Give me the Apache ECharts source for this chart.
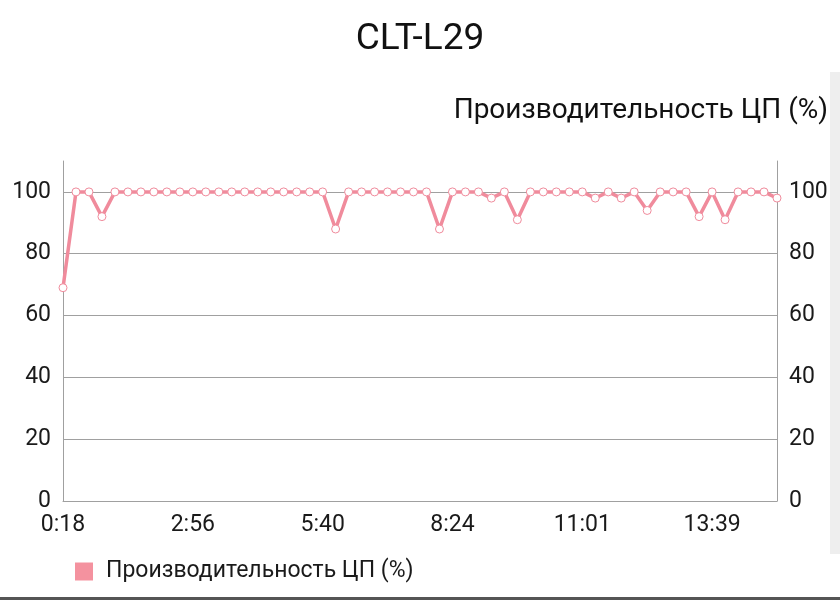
<!DOCTYPE html>
<html>
<head>
<meta charset="utf-8">
<script src="https://cdn.jsdelivr.net/npm/echarts@6/dist/echarts.min.js"></script>
<style>
html,body{margin:0;padding:0;background:#fff;}
#chart{width:840px;height:604px;}
</style>
</head>
<body>
<div id="chart"></div>
<script>
var chartTitle = 'CLT-L29';
var seriesName = 'Производительность ЦП (%)';
var times = ['0:18','0:34','0:50','1:05','1:21','1:37','1:53','2:09','2:24','2:40',
  '2:56','3:12','3:29','3:45','4:02','4:18','4:35','4:51','5:07','5:24',
  '5:40','5:56','6:13','6:29','6:46','7:02','7:19','7:35','7:51','8:08',
  '8:24','8:40','8:55','9:11','9:27','9:42','9:58','10:14','10:30','10:45',
  '11:01','11:17','11:33','11:48','12:04','12:20','12:36','12:52','13:07','13:23',
  '13:39','13:55','14:11','14:26','14:42','14:58'];
var cpuValues = [69,100,100,92,100,100,100,100,100,100,
  100,100,100,100,100,100,100,100,100,100,
  100,88,100,100,100,100,100,100,100,88,
  100,100,100,98,100,91,100,100,100,100,
  100,98,100,98,100,94,100,100,100,92,
  100,91,100,100,100,98];
var yTicks = [0,20,40,60,80,100];

var FONT = 'Roboto';
var chart = echarts.init(document.getElementById('chart'), null, {renderer:'canvas'});
var labelStyle = {color:'#1a1a1a', fontFamily:FONT, fontSize:23, showMaxLabel:false, margin:12,
  padding:[10,0,0,0],
  formatter:function(v){ return yTicks.indexOf(v) >= 0 ? String(v) : ''; }};
var yAxisCommon = {
  type:'value', min:0, max:110, interval:20,
  axisLine:{show:true, lineStyle:{color:'#a0a0a0', width:1}},
  axisTick:{show:false},
  splitLine:{show:true, showMaxLine:false, lineStyle:{color:'#a0a0a0', width:1}},
  axisLabel:labelStyle
};
chart.setOption({
  animation:false,
  backgroundColor:'#ffffff',
  title:[
    {text:chartTitle, left:'center', top:16, textStyle:{fontFamily:FONT, fontSize:37, fontWeight:'normal', color:'#111'}},
    {text:seriesName, right:7, top:92, textStyle:{fontFamily:FONT, fontSize:28, fontWeight:'normal', color:'#111'}}
  ],
  legend:{
    left:70, top:555, itemWidth:18, itemHeight:18, itemGap:10,
    icon:'rect',
    textStyle:{fontFamily:FONT, fontSize:23, color:'#1a1a1a', padding:[0,0,0,8]},
    data:[{name:seriesName, itemStyle:{color:'#f4929f', borderWidth:0}}]
  },
  grid:{left:63, right:63, top:161, bottom:103, containLabel:false},
  xAxis:{
    type:'category', data:times, boundaryGap:false,
    axisLine:{show:true, lineStyle:{color:'#a0a0a0'}},
    axisTick:{show:false},
    splitLine:{show:false},
    axisLabel:{interval:9, color:'#1a1a1a', fontFamily:FONT, fontSize:23, margin:13}
  },
  yAxis:[
    Object.assign({}, yAxisCommon, {position:'left'}),
    Object.assign({}, yAxisCommon, {position:'right', splitLine:{show:false}})
  ],
  series:[{
    name:seriesName, type:'line', data:cpuValues, yAxisIndex:0,
    symbol:'circle', symbolSize:8, showSymbol:true,
    lineStyle:{color:'#f08b9c', width:3.5},
    itemStyle:{color:'#ffffff', borderColor:'#f08b9c', borderWidth:1}
  }],
  graphic:[
    {type:'rect', right:0, top:72, shape:{width:10, height:482}, style:{fill:'#eeeeee'}, silent:true},
    {type:'rect', left:0, top:597, shape:{width:840, height:3}, style:{fill:'#555555'}, silent:true}
  ]
});
</script>
</body>
</html>
